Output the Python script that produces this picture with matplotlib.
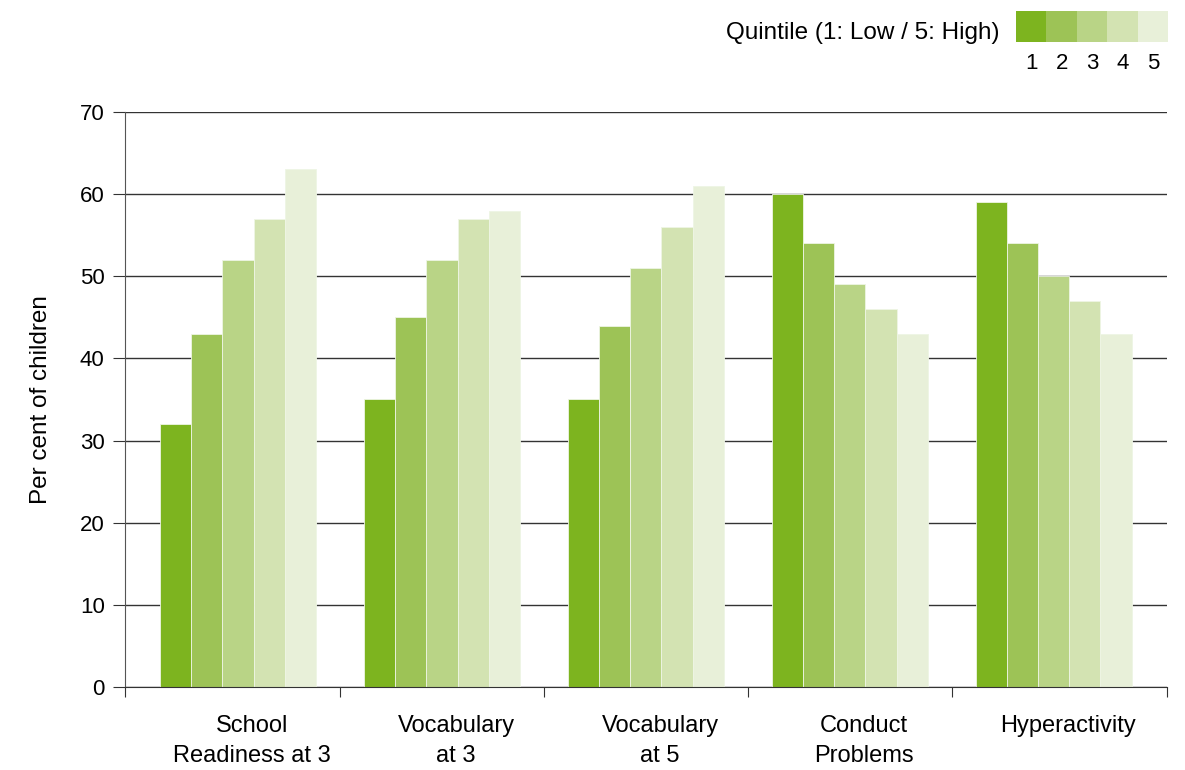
import numpy as np
from matplotlib import pyplot as plt

plt.rcParams['font.family'] = ['Liberation Sans', 'DejaVu Sans']

categories = ['School\nReadiness at 3', 'Vocabulary\nat 3', 'Vocabulary\nat 5',
              'Conduct\nProblems', 'Hyperactivity']
quintiles = ['1', '2', '3', '4', '5']
q1 = [32, 35, 35, 60, 59]
q2 = [43, 45, 44, 54, 54]
q3 = [52, 52, 51, 49, 50]
q4 = [57, 57, 56, 46, 47]
q5 = [63, 58, 61, 43, 43]
series = [q1, q2, q3, q4, q5]
colors = ['#7db41f', '#9dc356', '#b9d486', '#d3e3b2', '#e8f0d9']

fig = plt.figure(figsize=(11.85, 7.7), dpi=100)
ax = fig.add_axes([0.1055, 0.1078, 0.879, 0.7468])

x = np.arange(len(categories))
w = 0.153
for i, (vals, c) in enumerate(zip(series, colors)):
    ax.bar(x + (i - 2) * w, vals, w, color=c, edgecolor='#eef5e4', linewidth=0.6, zorder=2)

xl = (-0.554, 4.554)
ax.set_xlim(*xl)
ax.set_ylim(0, 70)
ax.set_yticks(range(0, 71, 10))
ax.yaxis.grid(True, color='#333333', linewidth=1.0, zorder=1)
ax.set_axisbelow(True)
ax.tick_params(axis='y', length=8.6, width=0.8, color='#333333', labelsize=16, pad=6)
ax.set_xticks([xl[0], 0.5, 1.5, 2.5, 3.5, xl[1]])
ax.set_xticklabels([])
ax.tick_params(axis='x', length=7, width=0.8, color='#333333')
for s in ['top', 'right']:
    ax.spines[s].set_visible(False)
ax.spines['left'].set_color('#555555')
ax.spines['bottom'].set_color('#333333')
ax.set_ylabel('Per cent of children', fontsize=17.5, labelpad=20)

for xi, lab in zip(x, categories):
    ax.text(xi + 0.07, -3.4, lab, ha='center', va='top', fontsize=17, linespacing=1.45)

# legend swatches
lax = fig.add_axes([1016 / 1185, 1 - 42 / 770, 152 / 1185, 31 / 770])
lax.bar(range(5), [1] * 5, 1.0, color=colors)
lax.set_xlim(-0.5, 4.5)
lax.set_ylim(0, 1)
lax.set_yticks([])
lax.set_xticks(range(5))
lax.set_xticklabels(quintiles, fontsize=16)
lax.tick_params(axis='x', length=0, pad=8)
for s in lax.spines.values():
    s.set_visible(False)
fig.text(1000 / 1185, 1 - 33 / 770, 'Quintile (1: Low / 5: High)', ha='right', va='center', fontsize=17.5)

fig.savefig('out.png')
